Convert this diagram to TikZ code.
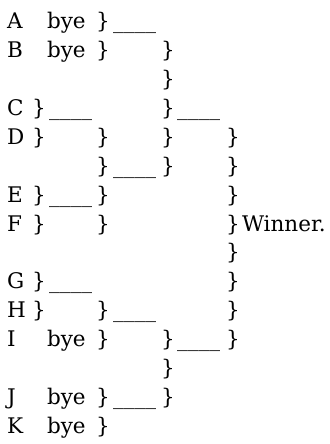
\documentclass[tikz,border=0pt]{standalone}
\usepackage{fontspec}
\setmainfont{DejaVu Serif}
\begin{document}
\begin{tikzpicture}[x=1pt,y=1pt,
  txt/.style={anchor=base west,inner sep=0pt,outer sep=0pt,
    font=\fontsize{21.5}{25}\selectfont,text=black}]
\useasboundingbox (0,0) rectangle (329,-444);
% column positions (letters, braces, blanks and the final label)
\def\cL{7}\def\cA{32}\def\cB{47}\def\cC{96}\def\cE{161}\def\cG{226}\def\cW{242}
% columns of the blank lines
\def\uB{49}\def\uD{113}\def\uF{177}
% row 0
\node[txt] (a)   at (\cL,-29)    {A};
\node[txt] (ab)  at (\cB,-29)    {bye};
\node[txt] (ar)  at (\cC,-29)    {\}};
\node[txt] (au)  at (\uD,-29)    {\_\_\_\_};
% row 1
\node[txt] (b)   at (\cL,-57.9)  {B};
\node[txt] (bb)  at (\cB,-57.9)  {bye};
\node[txt] (br)  at (\cC,-57.9)  {\}};
\node[txt] (br2) at (\cE,-57.9)  {\}};
% row 2
\node[txt] (r2)  at (\cE,-86.7)  {\}};
% row 3
\node[txt] (c)   at (\cL,-115.6) {C};
\node[txt] (cr)  at (\cA,-115.6) {\}};
\node[txt] (cu)  at (\uB,-115.6) {\_\_\_\_};
\node[txt] (cr2) at (\cE,-115.6) {\}};
\node[txt] (cu2) at (\uF,-115.6) {\_\_\_\_};
% row 4
\node[txt] (d)   at (\cL,-144.4) {D};
\node[txt] (dr)  at (\cA,-144.4) {\}};
\node[txt] (dr2) at (\cC,-144.4) {\}};
\node[txt] (dr3) at (\cE,-144.4) {\}};
\node[txt] (dr4) at (\cG,-144.4) {\}};
% row 5
\node[txt] (r5a) at (\cC,-173.3) {\}};
\node[txt] (r5u) at (\uD,-173.3) {\_\_\_\_};
\node[txt] (r5b) at (\cE,-173.3) {\}};
\node[txt] (r5c) at (\cG,-173.3) {\}};
% row 6
\node[txt] (e)   at (\cL,-202.2) {E};
\node[txt] (er)  at (\cA,-202.2) {\}};
\node[txt] (eu)  at (\uB,-202.2) {\_\_\_\_};
\node[txt] (er2) at (\cC,-202.2) {\}};
\node[txt] (er3) at (\cG,-202.2) {\}};
% row 7
\node[txt] (f)   at (\cL,-231.0) {F};
\node[txt] (fr)  at (\cA,-231.0) {\}};
\node[txt] (fr2) at (\cC,-231.0) {\}};
\node[txt] (fr3) at (\cG,-231.0) {\}};
\node[txt] (win) at (\cW,-231.0) {Winner.};
% row 8
\node[txt] (r8)  at (\cG,-259.9) {\}};
% row 9
\node[txt] (g)   at (\cL,-288.7) {G};
\node[txt] (gr)  at (\cA,-288.7) {\}};
\node[txt] (gu)  at (\uB,-288.7) {\_\_\_\_};
\node[txt] (gr2) at (\cG,-288.7) {\}};
% row 10
\node[txt] (h)   at (\cL,-317.6) {H};
\node[txt] (hr)  at (\cA,-317.6) {\}};
\node[txt] (hr2) at (\cC,-317.6) {\}};
\node[txt] (hu)  at (\uD,-317.6) {\_\_\_\_};
\node[txt] (hr3) at (\cG,-317.6) {\}};
% row 11
\node[txt] (i)   at (\cL,-346.5) {I};
\node[txt] (ib)  at (\cB,-346.5) {bye};
\node[txt] (ir)  at (\cC,-346.5) {\}};
\node[txt] (ir2) at (\cE,-346.5) {\}};
\node[txt] (iu)  at (\uF,-346.5) {\_\_\_\_};
\node[txt] (ir3) at (\cG,-346.5) {\}};
% row 12
\node[txt] (r12) at (\cE,-375.3) {\}};
% row 13
\node[txt] (j)   at (\cL,-404.2) {J};
\node[txt] (jb)  at (\cB,-404.2) {bye};
\node[txt] (jr)  at (\cC,-404.2) {\}};
\node[txt] (ju)  at (\uD,-404.2) {\_\_\_\_};
\node[txt] (jr2) at (\cE,-404.2) {\}};
% row 14
\node[txt] (k)   at (\cL,-433)   {K};
\node[txt] (kb)  at (\cB,-433)   {bye};
\node[txt] (kr)  at (\cC,-433)   {\}};
\end{tikzpicture}
\end{document}
